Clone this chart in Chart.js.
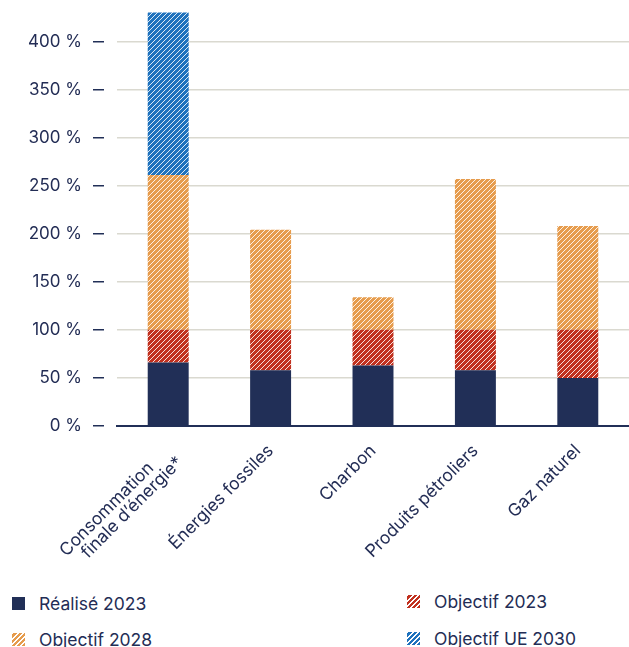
<!DOCTYPE html>
<html><head><meta charset="utf-8">
<script src="https://cdn.jsdelivr.net/npm/chart.js@4"></script>
<style>
html,body{margin:0;padding:0;background:#fff;width:629px;height:647px;overflow:hidden;font-family:Inter, sans-serif;}
#wrap{position:absolute;left:0;top:0;width:629px;height:580px;}
.leg{position:absolute;height:22px;font-size:17.5px;color:#232d55;display:flex;align-items:center;white-space:nowrap;}
.sw{width:13px;height:13px;margin-right:14px;flex:none;}
</style></head><body>
<div id="wrap"><canvas id="c"></canvas></div>
<div id="legend"></div>
<script>
// ---- data ----
const categories = [["Consommation     ", "finale d’énergie*"], "Énergies fossiles", "Charbon", "Produits pétroliers", "Gaz naturel"];
const realise2023 = [66, 58, 63, 58, 50];          // solid navy segment
const objectif2023 = [34, 42, 37, 42, 50];         // segment up to 100 %
const objectif2028 = [161, 104, 34, 157, 108];     // segment above 100 %
const objectifUE2030 = [169, null, null, null, null];
const yTickValues = [0, 50, 100, 150, 200, 250, 300, 350, 400];
const seriesNames = ["Réalisé 2023", "Objectif 2023", "Objectif 2028", "Objectif UE 2030"];

// ---- styles ----
const NAVY = '#212f57', TEXT = '#232d55', GRID = '#dad9d0';
const RED = '#c1311f', ORANGE = '#e69c4d', BLUE = '#1f72bd';
const YFONT = {family: 'Inter, sans-serif', size: 17};
const XFONT = {family: 'Inter, sans-serif', size: 17.5, lineHeight: 0.95};

function hatch(color){
  const s = 5, c = document.createElement('canvas');
  c.width = c.height = s;
  const g = c.getContext('2d');
  g.fillStyle = color; g.fillRect(0, 0, s, s);
  g.strokeStyle = 'rgba(255,255,255,0.85)'; g.lineWidth = 1;
  g.beginPath();
  g.moveTo(-1, s + 1); g.lineTo(s + 1, -1);
  g.moveTo(-1, 1); g.lineTo(1, -1);
  g.moveTo(s - 1, s + 1); g.lineTo(s + 1, s - 1);
  g.stroke();
  return g.createPattern(c, 'repeat');
}

const common = {barPercentage: 0.4, categoryPercentage: 1.0, borderWidth: 0, clip: false};
const datasets = [
  Object.assign({label: seriesNames[0], data: realise2023, backgroundColor: NAVY}, common),
  Object.assign({label: seriesNames[1], data: objectif2023, backgroundColor: hatch(RED)}, common),
  Object.assign({label: seriesNames[2], data: objectif2028, backgroundColor: hatch(ORANGE)}, common),
  Object.assign({label: seriesNames[3], data: objectifUE2030, backgroundColor: hatch(BLUE)}, common)
];

new Chart(document.getElementById('c'), {
  type: 'bar',
  data: {labels: categories, datasets},
  options: {
    responsive: true, maintainAspectRatio: false, animation: false,
    layout: {padding: {top: 0, right: 0, left: 0, bottom: 0}},
    plugins: {legend: {display: false}, tooltip: {enabled: false}},
    scales: {
      x: {
        stacked: true,
        grid: {display: false},
        border: {color: NAVY, width: 2},
        ticks: {color: TEXT, font: XFONT, maxRotation: 45, minRotation: 45, autoSkip: false, padding: 8},
        afterFit: s => { s.height = 154; }
      },
      y: {
        stacked: true, min: 0, max: 421,
        afterBuildTicks: s => { s.ticks = yTickValues.map(v => ({value: v})); },
        ticks: {color: TEXT, font: YFONT, padding: 11, callback: v => v + ' %'},
        grid: {
          color: ctx => (ctx.tick && ctx.tick.value === 0) ? NAVY : GRID,
          lineWidth: 1.5,
          drawTicks: true, tickLength: 24, tickColor: NAVY, tickWidth: 1.5,
          tickBorderDash: [11, 40]
        },
        border: {display: false},
        afterFit: s => { s.width = 117; }
      }
    }
  }
});

// ---- legend (HTML, two columns) ----
const legendItems = [
  {name: seriesNames[0], bg: NAVY, x: 12, y: 592},
  {name: seriesNames[1], bg: RED, x: 407, y: 590, hatch: true},
  {name: seriesNames[2], bg: ORANGE, x: 12, y: 628, hatch: true},
  {name: seriesNames[3], bg: BLUE, x: 407, y: 627, hatch: true}
];
const L = document.getElementById('legend');
legendItems.forEach(it => {
  const d = document.createElement('div');
  d.className = 'leg';
  d.style.left = it.x + 'px'; d.style.top = it.y + 'px';
  const sw = document.createElement('span');
  sw.className = 'sw';
  sw.style.background = it.hatch
    ? `repeating-linear-gradient(-45deg, ${it.bg} 0 2.6px, #fff 2.6px 3.6px)`
    : it.bg;
  const t = document.createElement('span');
  t.textContent = it.name;
  d.appendChild(sw); d.appendChild(t);
  L.appendChild(d);
});
</script>
</body></html>
